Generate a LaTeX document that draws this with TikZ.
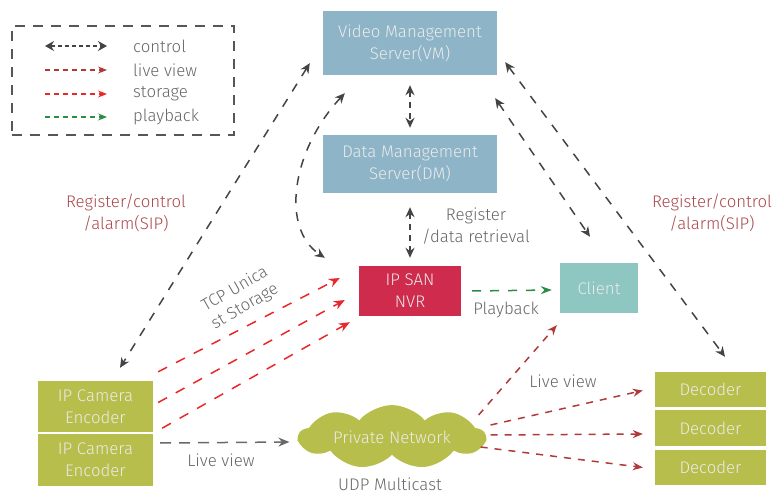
\documentclass[tikz,border=0pt]{standalone}
\usepackage{fontspec}
\setmainfont{Fira Sans}[UprightFont=* Light]
\usetikzlibrary{arrows.meta,shapes.symbols,calc}
\definecolor{vmblue}{HTML}{8EB4C8}
\definecolor{nvrred}{HTML}{CF2B4C}
\definecolor{clientteal}{HTML}{8EC6C1}
\definecolor{olive}{HTML}{B8BE4B}
\definecolor{ctrlgray}{HTML}{444444}
\definecolor{lvred}{HTML}{B03A3A}
\definecolor{stred}{HTML}{E8282A}
\definecolor{pbgreen}{HTML}{2B8C47}
\definecolor{labgray}{HTML}{666666}
\definecolor{labred}{HTML}{A9474A}
\begin{document}
\begin{tikzpicture}[x=1pt,y=-1pt,
  font=\fontsize{16.8}{22}\selectfont,
  box/.style={draw=none,inner sep=0pt,align=center,text=white!92!black},
  ctrl/.style={draw=ctrlgray,line width=1.5pt,dash pattern=on 9pt off 9pt,
    {Stealth[length=10pt,width=9pt]}-{Stealth[length=10pt,width=9pt]}},
  lview/.style={draw=lvred,line width=1.5pt,dash pattern=on 7pt off 7pt,
    -{Stealth[length=10pt,width=8pt]}},
  store/.style={draw=stred,line width=1.5pt,dash pattern=on 10pt off 10pt,
    -{Stealth[length=11pt,width=9pt]}},
  pback/.style={draw=pbgreen,line width=1.5pt,dash pattern=on 9pt off 9pt,
    -{Stealth[length=11pt,width=8pt]}},
  gview/.style={draw=ctrlgray!80,line width=1.5pt,dash pattern=on 11pt off 8pt,
    -{Stealth[length=11pt,width=9pt]}},
  lab/.style={text=labgray,align=center,inner sep=0pt},
  rlab/.style={text=labred,align=center,inner sep=0pt}]
\useasboundingbox (0,0) rectangle (777,494);

% legend
\node[draw=ctrlgray!90,line width=1.4pt,dash pattern=on 10pt off 8pt,minimum width=222pt,minimum height=109pt,inner sep=0pt] (legend) at (123,80.5) {};
\coordinate (lc1) at ([shift={(-78,-34.5)}]legend.center);
\coordinate (lc2) at ([shift={(-16,-34.5)}]legend.center);
\draw[ctrl,line width=1.3pt,dash pattern=on 4pt off 3pt,{Stealth[length=9pt,width=10pt]}-{Stealth[length=9pt,width=10pt]}] (lc1) -- (lc2);
\coordinate (ll1) at ([shift={(-78,-10.5)}]legend.center);
\coordinate (ll2) at ([shift={(-16,-10.5)}]legend.center);
\draw[lview,line width=1.3pt,dash pattern=on 5pt off 4pt,-{Stealth[length=9pt,width=7pt]}] (ll1) -- (ll2);
\coordinate (ls1) at ([shift={(-78,13.5)}]legend.center);
\coordinate (ls2) at ([shift={(-16,13.5)}]legend.center);
\draw[store,line width=1.3pt,dash pattern=on 5pt off 4pt,-{Stealth[length=9pt,width=7pt]}] (ls1) -- (ls2);
\coordinate (lp1) at ([shift={(-78,36.5)}]legend.center);
\coordinate (lp2) at ([shift={(-16,36.5)}]legend.center);
\draw[pback,line width=1.3pt,dash pattern=on 5pt off 4pt,-{Stealth[length=9pt,width=7pt]}] (lp1) -- (lp2);
\node[lab,anchor=west] (tc) at (133,46) {control};
\node[lab,anchor=west] (tl) at (133,70) {live view};
\node[lab,anchor=west] (ts) at (133,94) {storage};
\node[lab,anchor=west] (tp) at (133,117) {playback};

% boxes
\node[box,fill=vmblue,minimum width=174pt,minimum height=64pt] (vm) at (410,43) {Video Management\\Server(VM)};
\node[box,fill=vmblue,minimum width=174pt,minimum height=58pt] (dm) at (410,164) {Data Management\\Server(DM)};
\node[box,fill=nvrred,minimum width=102pt,minimum height=50pt] (nvr) at (410,291) {IP SAN\\NVR};
\node[box,fill=clientteal,minimum width=78pt,minimum height=50pt] (client) at (599,288) {Client};
\node[box,fill=olive,minimum width=115pt,minimum height=51pt] (cam1) at (95.5,406.5) {IP Camera\\Encoder};
\node[box,fill=olive,minimum width=115pt,minimum height=52pt] (cam2) at (95.5,460) {IP Camera\\Encoder};
\node[box,fill=olive,minimum width=111pt,minimum height=35pt] (dec1) at (710.5,389.5) {Decoder};
\node[box,fill=olive,minimum width=111pt,minimum height=36pt] (dec2) at (710.5,428) {Decoder};
\node[box,fill=olive,minimum width=111pt,minimum height=35pt] (dec3) at (710.5,467.5) {Decoder};
\node[box,cloud,cloud puffs=9,cloud puff arc=100,aspect=4.2,fill=olive,minimum width=186pt,minimum height=48pt] (cloud) at (392,437) {Private Network};

% control connectors
\draw[ctrl] ([shift={(-13,-12)}]vm.south west) -- ([shift={(24.5,-13)}]cam1.north);
\draw[ctrl] ([shift={(8,-13)}]vm.south east) -- ([shift={(14.5,-15)}]dec1.north);
\draw[ctrl,dash pattern=on 6pt off 5pt] ([shift={(0,10)}]vm.south) -- ([shift={(0,-7)}]dm.north);
\draw[ctrl,dash pattern=on 6pt off 5pt] ([shift={(0,14)}]dm.south) -- ([shift={(0,-8)}]nvr.north);
\draw[ctrl] ([shift={(22,18)}]vm.south west) .. controls (292,150) and (280,228) .. ([shift={(-34,-8)}]nvr.north west);
\draw[ctrl] ([shift={(-2,23)}]vm.south east) -- ([shift={(-9,-26)}]client.north);

% playback
\draw[pback] ([shift={(11,0)}]nvr.east) -- ([shift={(-8,2)}]client.west);

% storage
\draw[store] ([shift={(5,-9)}]cam1.north east) -- ([shift={(-19,-13)}]nvr.west);
\draw[store] ([shift={(5,-4)}]cam1.east) -- ([shift={(-14,9)}]nvr.west);
\draw[store] ([shift={(9,-4)}]cam1.south east) -- ([shift={(-9,6)}]nvr.south west);

% live view
\draw[gview] ([shift={(7,-17)}]cam2.east) -- ([shift={(-8,5)}]cloud.west);
\draw[lview] ([shift={(-8,-22)}]cloud.east) -- ([shift={(-3,12)}]client.south west);
\draw[lview] ([shift={(4,-12)}]cloud.east) -- ([shift={(-12,1)}]dec1.west);
\draw[lview] ([shift={(4,-2)}]cloud.east) -- ([shift={(-12,6)}]dec2.west);
\draw[lview] ([shift={(-6,10)}]cloud.east) -- ([shift={(-12,0)}]dec3.west);

% labels
\node[rlab] (regl) at (126,213) {Register/control\\/alarm(SIP)};
\node[rlab] (regr) at (712,213) {Register/control\\/alarm(SIP)};
\node[lab] (regdm) at (476,226) {Register\\/data retrieval};
\node[lab] (pbl) at (506,310) {Playback};
\node[lab] (lv1) at (221,460) {Live view};
\node[lab] (lv2) at (563,381) {Live view};
\node[lab] (udp) at (390,484) {UDP Multicast};
\node[lab,rotate=30,font=\fontsize{16.8}{20}\selectfont] (tcp) at (240,298) {TCP Unica\\st Storage};
\end{tikzpicture}
\end{document}
